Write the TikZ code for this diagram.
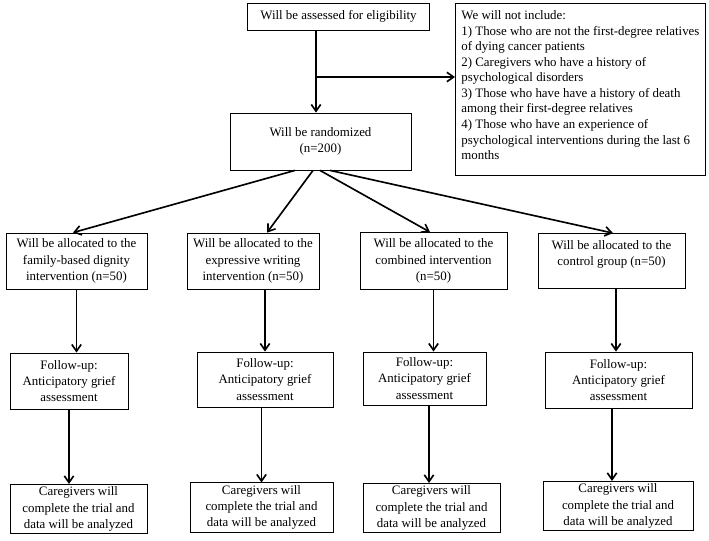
\documentclass[tikz,border=0pt]{standalone}
\usepackage{fontspec}
\setmainfont{Liberation Serif}
\usetikzlibrary{arrows.meta,calc}
\tikzset{>={Straight Barb[length=2mm,width=2.8mm]}}
\tikzset{
	box/.style={draw, line width=0.7pt, fill=white, align=center,
			font=\fontsize{11}{14}\selectfont, inner sep=2pt},
	note/.style={draw, line width=0.7pt, fill=white, align=left,
			font=\fontsize{11}{13.3}\selectfont, inner sep=2pt},
	flow/.style={->, line width=1.4pt}
}

\begin{document}
\begin{tikzpicture}[x=0.03cm, y=-0.03cm]
	\useasboundingbox (0,0) rectangle (709,541);

	% screening
	\node[box, minimum width=5.46cm, minimum height=0.81cm] (assess) at (338.5,16.5) {Will be assessed for eligibility};
	\node[note, anchor=north west, minimum width=7.5cm, minimum height=5.16cm] (exclude) at (455,3)
		{We will not include:\\
		1) Those who are not the first-degree relatives\\
		of dying cancer patients\\
		2) Caregivers who have a history of\\
		psychological disorders\\
		3) Those who have have a history of death\\
		among their first-degree relatives\\
		4) Those who have an experience of\\
		psychological interventions during the last 6\\
		months\\[-6pt]\mbox{}};
	\node[box, minimum width=5.43cm, minimum height=1.71cm] (random) at (320.5,141.5) {Will be randomized\\(n=200)};

	% groups
	\node[box, minimum width=4.23cm, minimum height=1.68cm] (a1) at (76.5,261) {Will be allocated to the\\family-based dignity\\intervention (n=50)};
	\node[box, minimum width=3.96cm, minimum height=1.68cm] (a2) at (253,261) {Will be allocated to the\\expressive writing\\intervention (n=50)};
	\node[box, minimum width=4.41cm, minimum height=1.71cm] (a3) at (433.5,261) {Will be allocated to the\\combined intervention\\(n=50)};
	\node[box, minimum width=4.41cm, minimum height=1.65cm] (a4) at (611.5,261) {Will be allocated to the\\control group (n=50)\\\mbox{}};

	% follow-up
	\node[box, minimum width=3.54cm, minimum height=1.68cm] (f1) at (69,381) {Follow-up:\\Anticipatory grief\\assessment};
	\node[box, minimum width=4.08cm, minimum height=1.65cm] (f2) at (265,379.5) {Follow-up:\\Anticipatory grief\\assessment};
	\node[box, minimum width=3.69cm, minimum height=1.59cm] (f3) at (424.5,378.5) {Follow-up:\\Anticipatory grief\\assessment};
	\node[box, minimum width=4.41cm, minimum height=1.68cm] (f4) at (618.5,380) {Follow-up:\\Anticipatory grief\\assessment};

	% completion
	\node[box, minimum width=4.11cm, minimum height=1.38cm] (c1) at (78.5,509) {Caregivers will\\complete the trial and\\data will be analyzed};
	\node[box, minimum width=4.29cm, minimum height=1.41cm] (c2) at (261.5,507.5) {Caregivers will\\complete the trial and\\data will be analyzed};
	\node[box, minimum width=4.11cm, minimum height=1.38cm] (c3) at (431.5,508) {Caregivers will\\complete the trial and\\data will be analyzed};
	\node[box, minimum width=4.5cm, minimum height=1.38cm] (c4) at (618,506) {Caregivers will\\complete the trial and\\data will be analyzed};

	% arrows
	\coordinate (split) at (316,77);
	\draw[flow] (assess.south -| split) -- (random.north -| split);
	\draw[flow] (split) -- (split -| exclude.west);

	\draw[flow] ($(random.south)+(-25.5,0)$) -- ($(a1.north)+(-3.5,0)$);
	\draw[flow] ($(random.south)+(-7.5,0)$) -- ($(a2.north)+(14,0)$);
	\draw[flow] ($(random.south)+(-0.5,0)$) -- ($(a3.north)+(-3.5,0)$);
	\draw[flow] ($(random.south)+(9.5,0)$) -- ($(a4.north)+(1.5,0)$);

	\draw[flow] (a1.south) -- (a1.south |- f1.north);
	\draw[flow] (f2 |- a2.south) -- (f2.north);
	\draw[flow] (a3.south) -- (a3.south |- f3.north);
	\draw[flow] ($(a4.south)+(4.5,0)$) -- ($(f4.north)+(-2.5,0)$);

	\draw[flow] (f1.south) -- (f1.south |- c1.north);
	\draw[flow] (c2 |- f2.south) -- (c2.north);
	\draw[flow] ($(f3.south)+(4.5,0)$) -- ($(c3.north)+(-2.5,0)$);
	\draw[flow] ($(f4.south)+(-6.5,0)$) -- ($(c4.north)+(-6,0)$);
\end{tikzpicture}
\end{document}
